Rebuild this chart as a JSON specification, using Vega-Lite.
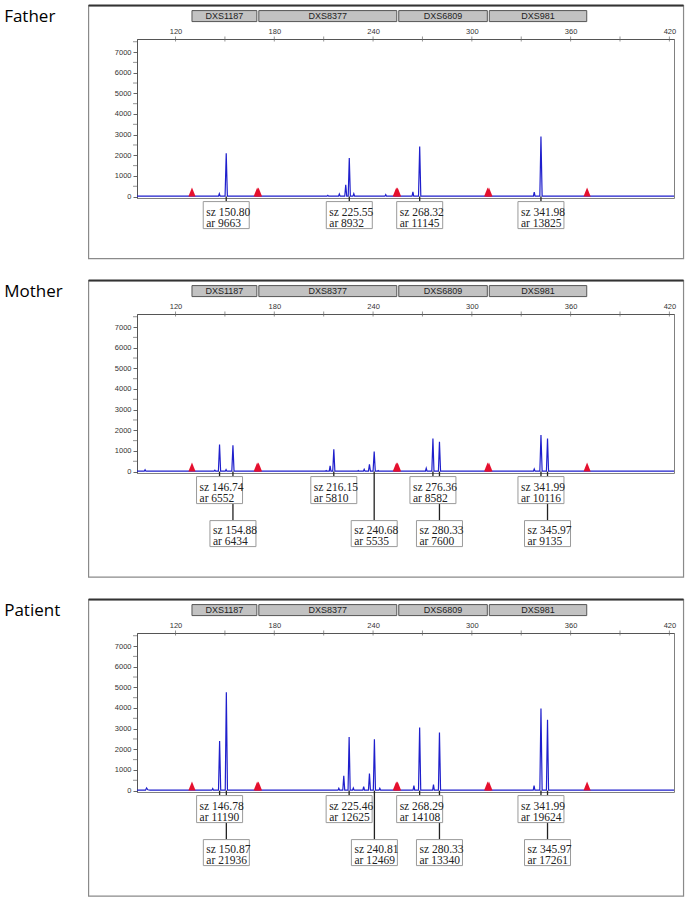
{
"$schema": "https://vega.github.io/schema/vega-lite/v6.json",
"background": "white",
"padding": {"left": 3, "top": 4, "right": 0, "bottom": 0},
"autosize": {"type": "pad"},
"spacing": 19,
"config": {
  "view": {"stroke": "#808080", "strokeWidth": 1},
  "axis": {"grid": false, "domainColor": "#555", "tickColor": "#666", "labelColor": "#333", "labelFont": "Liberation Sans", "labelFontSize": 7.5, "title": null, "labelFlush": false, "labelOverlap": false}
},
"datasets": {
  "one": [{}],
  "minor": [{"v": 500}, {"v": 1500}, {"v": 2500}, {"v": 3500}, {"v": 4500}, {"v": 5500}, {"v": 6500}, {"v": 7500}],
  "xticks": [{"t": 120}, {"t": 150}, {"t": 180}, {"t": 210}, {"t": 240}, {"t": 270}, {"t": 300}, {"t": 330}, {"t": 360}, {"t": 390}, {"t": 420}],
  "loci": [
    {"locus": "DXS1187", "start": 130.0, "end": 169.4},
    {"locus": "DXS8377", "start": 170.6, "end": 254.4},
    {"locus": "DXS6809", "start": 255.6, "end": 309.4},
    {"locus": "DXS981", "start": 310.6, "end": 369.8}
  ],
  "ladder": [
    {"bp": 130.0}, {"bp": 169.6}, {"bp": 170.4}, {"bp": 254.1}, {"bp": 254.9}, {"bp": 309.6}, {"bp": 310.4}, {"bp": 370.0}
  ],
  "calls": [
    {"who": "Father", "row": 1, "peak": 150.80, "label": "sz 150.80\nar 9663"},
    {"who": "Father", "row": 1, "peak": 225.55, "label": "sz 225.55\nar 8932"},
    {"who": "Father", "row": 1, "peak": 268.32, "label": "sz 268.32\nar 11145"},
    {"who": "Father", "row": 1, "peak": 341.98, "label": "sz 341.98\nar 13825"},
    {"who": "Mother", "row": 1, "peak": 146.74, "label": "sz 146.74\nar 6552"},
    {"who": "Mother", "row": 1, "peak": 216.15, "label": "sz 216.15\nar 5810"},
    {"who": "Mother", "row": 1, "peak": 276.36, "label": "sz 276.36\nar 8582"},
    {"who": "Mother", "row": 1, "peak": 341.99, "label": "sz 341.99\nar 10116"},
    {"who": "Mother", "row": 2, "peak": 154.88, "label": "sz 154.88\nar 6434"},
    {"who": "Mother", "row": 2, "peak": 240.68, "label": "sz 240.68\nar 5535"},
    {"who": "Mother", "row": 2, "peak": 280.33, "label": "sz 280.33\nar 7600"},
    {"who": "Mother", "row": 2, "peak": 345.97, "label": "sz 345.97\nar 9135"},
    {"who": "Patient", "row": 1, "peak": 146.78, "label": "sz 146.78\nar 11190"},
    {"who": "Patient", "row": 1, "peak": 225.46, "label": "sz 225.46\nar 12625"},
    {"who": "Patient", "row": 1, "peak": 268.29, "label": "sz 268.29\nar 14108"},
    {"who": "Patient", "row": 1, "peak": 341.99, "label": "sz 341.99\nar 19624"},
    {"who": "Patient", "row": 2, "peak": 150.87, "label": "sz 150.87\nar 21936"},
    {"who": "Patient", "row": 2, "peak": 240.81, "label": "sz 240.81\nar 12469"},
    {"who": "Patient", "row": 2, "peak": 280.33, "label": "sz 280.33\nar 13340"},
    {"who": "Patient", "row": 2, "peak": 345.97, "label": "sz 345.97\nar 17261"}
  ],
  "fatherTrace": [
    {"bp": 96.6, "h": 20}, {"bp": 146.1, "h": 20}, {"bp": 146.6, "h": 140}, {"bp": 147.1, "h": 20},
    {"bp": 150.1, "h": 20}, {"bp": 150.8, "h": 2095}, {"bp": 151.5, "h": 20},
    {"bp": 212.0, "h": 20}, {"bp": 212.5, "h": 60}, {"bp": 213.0, "h": 20},
    {"bp": 219.0, "h": 20}, {"bp": 219.5, "h": 125}, {"bp": 220.0, "h": 20},
    {"bp": 222.8, "h": 20}, {"bp": 223.4, "h": 570}, {"bp": 224.0, "h": 20},
    {"bp": 224.9, "h": 20}, {"bp": 225.55, "h": 1870}, {"bp": 226.2, "h": 20},
    {"bp": 227.8, "h": 20}, {"bp": 228.3, "h": 140}, {"bp": 228.8, "h": 20},
    {"bp": 247.2, "h": 20}, {"bp": 247.7, "h": 95}, {"bp": 248.2, "h": 20},
    {"bp": 263.7, "h": 20}, {"bp": 264.2, "h": 235}, {"bp": 264.7, "h": 20},
    {"bp": 267.6, "h": 20}, {"bp": 268.32, "h": 2430}, {"bp": 269.0, "h": 20},
    {"bp": 337.4, "h": 20}, {"bp": 337.9, "h": 220}, {"bp": 338.4, "h": 20},
    {"bp": 341.3, "h": 20}, {"bp": 341.98, "h": 2905}, {"bp": 342.7, "h": 20},
    {"bp": 422.8, "h": 20}
  ],
  "motherTrace": [
    {"bp": 96.6, "h": 20}, {"bp": 101.0, "h": 20}, {"bp": 101.5, "h": 90}, {"bp": 102.0, "h": 20},
    {"bp": 143.4, "h": 20}, {"bp": 143.9, "h": 65}, {"bp": 144.4, "h": 20},
    {"bp": 146.05, "h": 20}, {"bp": 146.74, "h": 1315}, {"bp": 147.4, "h": 20},
    {"bp": 150.2, "h": 20}, {"bp": 150.7, "h": 95}, {"bp": 151.2, "h": 20},
    {"bp": 154.2, "h": 20}, {"bp": 154.88, "h": 1270}, {"bp": 155.55, "h": 20},
    {"bp": 211.0, "h": 20}, {"bp": 211.5, "h": 55}, {"bp": 212.0, "h": 20},
    {"bp": 213.4, "h": 20}, {"bp": 213.9, "h": 280}, {"bp": 214.4, "h": 20},
    {"bp": 215.5, "h": 20}, {"bp": 216.15, "h": 1080}, {"bp": 216.8, "h": 20},
    {"bp": 230.5, "h": 20}, {"bp": 231.0, "h": 50}, {"bp": 231.5, "h": 20},
    {"bp": 234.1, "h": 20}, {"bp": 234.6, "h": 110}, {"bp": 235.1, "h": 20},
    {"bp": 237.2, "h": 20}, {"bp": 237.8, "h": 350}, {"bp": 238.4, "h": 20},
    {"bp": 240.0, "h": 20}, {"bp": 240.68, "h": 970}, {"bp": 241.35, "h": 20},
    {"bp": 242.6, "h": 20}, {"bp": 243.1, "h": 55}, {"bp": 243.6, "h": 20},
    {"bp": 271.8, "h": 20}, {"bp": 272.3, "h": 160}, {"bp": 272.8, "h": 20},
    {"bp": 275.7, "h": 20}, {"bp": 276.36, "h": 1600}, {"bp": 277.0, "h": 20},
    {"bp": 279.7, "h": 20}, {"bp": 280.33, "h": 1440}, {"bp": 281.0, "h": 20},
    {"bp": 337.4, "h": 20}, {"bp": 337.9, "h": 125}, {"bp": 338.4, "h": 20},
    {"bp": 341.3, "h": 20}, {"bp": 341.99, "h": 1775}, {"bp": 342.7, "h": 20},
    {"bp": 345.3, "h": 20}, {"bp": 345.97, "h": 1600}, {"bp": 346.6, "h": 20},
    {"bp": 422.8, "h": 20}
  ],
  "patientTrace": [
    {"bp": 96.6, "h": 20}, {"bp": 101.8, "h": 20}, {"bp": 102.4, "h": 130}, {"bp": 103.2, "h": 40}, {"bp": 104.5, "h": 20},
    {"bp": 142.1, "h": 20}, {"bp": 142.6, "h": 95}, {"bp": 143.1, "h": 20},
    {"bp": 146.1, "h": 20}, {"bp": 146.78, "h": 2400}, {"bp": 147.45, "h": 20},
    {"bp": 150.2, "h": 20}, {"bp": 150.87, "h": 4760}, {"bp": 151.55, "h": 20},
    {"bp": 218.7, "h": 20}, {"bp": 219.2, "h": 110}, {"bp": 219.7, "h": 20},
    {"bp": 221.6, "h": 20}, {"bp": 222.2, "h": 715}, {"bp": 222.8, "h": 20},
    {"bp": 224.8, "h": 20}, {"bp": 225.46, "h": 2600}, {"bp": 226.1, "h": 20},
    {"bp": 227.5, "h": 20}, {"bp": 228.0, "h": 125}, {"bp": 228.5, "h": 20},
    {"bp": 233.8, "h": 20}, {"bp": 234.3, "h": 190}, {"bp": 234.8, "h": 20},
    {"bp": 237.2, "h": 20}, {"bp": 237.8, "h": 825}, {"bp": 238.4, "h": 20},
    {"bp": 240.15, "h": 20}, {"bp": 240.81, "h": 2480}, {"bp": 241.45, "h": 20},
    {"bp": 243.6, "h": 20}, {"bp": 244.1, "h": 110}, {"bp": 244.6, "h": 20},
    {"bp": 264.3, "h": 20}, {"bp": 264.8, "h": 240}, {"bp": 265.3, "h": 20},
    {"bp": 267.6, "h": 20}, {"bp": 268.29, "h": 3050}, {"bp": 268.95, "h": 20},
    {"bp": 276.2, "h": 20}, {"bp": 276.7, "h": 290}, {"bp": 277.2, "h": 20},
    {"bp": 279.7, "h": 20}, {"bp": 280.33, "h": 2810}, {"bp": 281.0, "h": 20},
    {"bp": 337.3, "h": 20}, {"bp": 337.8, "h": 240}, {"bp": 338.3, "h": 20},
    {"bp": 341.3, "h": 20}, {"bp": 341.99, "h": 3980}, {"bp": 342.7, "h": 20},
    {"bp": 345.3, "h": 20}, {"bp": 345.97, "h": 3430}, {"bp": 346.6, "h": 20},
    {"bp": 422.8, "h": 20}
  ]
},
"vconcat": [
  {
    "width": 537, "height": 159,
    "layer": [
      {"data": {"name": "fatherTrace"},
       "mark": {"type": "line", "color": "#1f1fcc", "strokeWidth": 1.2},
       "encoding": {
         "x": {"field": "bp", "type": "quantitative", "scale": {"domain": [96.6, 422.8], "nice": false, "zero": false},
               "axis": {"orient": "top", "values": [120, 180, 240, 300, 360, 420], "tickCount": 16, "format": "d", "labelExpr": "datum.value % 60 == 0 ? datum.label : ''", "ticks": false, "labelPadding": 4, "labelOverlap": false}},
         "y": {"field": "h", "type": "quantitative", "scale": {"domain": [-68, 7632], "nice": false, "zero": false},
               "axis": {"values": [0, 1000, 2000, 3000, 4000, 5000, 6000, 7000], "tickCount": 8, "format": "d", "tickSize": 4, "labelPadding": 2, "labelOverlap": false}}}},
      {"data": {"name": "one"}, "mark": {"type": "rect", "fill": "transparent", "stroke": "#8a8a8a", "strokeWidth": 1.2},
       "encoding": {"x": {"datum": 67.2, "type": "quantitative"}, "x2": {"datum": 428.6},
                    "y": {"datum": 9250, "type": "quantitative"}, "y2": {"datum": -3003}}},
      {"data": {"name": "one"}, "mark": {"type": "rule", "stroke": "#333", "strokeWidth": 2},
       "encoding": {"x": {"datum": 67.2, "type": "quantitative"}, "x2": {"datum": 428.6}, "y": {"datum": 9250, "type": "quantitative"}}},
      {"data": {"name": "one"}, "mark": {"type": "text", "text": "Father", "align": "left", "baseline": "middle", "font": "Open Sans", "fontSize": 17, "color": "#000"},
       "encoding": {"x": {"datum": 15.9, "type": "quantitative"}, "y": {"datum": 8700, "type": "quantitative"}}},
      {"data": {"name": "minor"}, "mark": {"type": "tick", "orient": "horizontal", "color": "#666", "size": 4, "thickness": 1, "xOffset": -2},
       "encoding": {"x": {"datum": 96.6, "type": "quantitative"}, "y": {"field": "v", "type": "quantitative"}}},
      {"data": {"name": "xticks"}, "mark": {"type": "tick", "orient": "vertical", "color": "#666", "size": 5, "thickness": 1},
       "encoding": {"x": {"field": "t", "type": "quantitative"}, "y": {"datum": 7632, "type": "quantitative"}}},
      {"data": {"name": "loci"},
       "mark": {"type": "rect", "fill": "#c2c2c2", "stroke": "#555", "strokeWidth": 1},
       "encoding": {"x": {"field": "start", "type": "quantitative"}, "x2": {"field": "end"}, "y": {"datum": 9008, "type": "quantitative"}, "y2": {"datum": 8475}}},
      {"data": {"name": "loci"},
       "transform": [{"fold": ["start", "end"], "as": ["edge", "pos"]}, {"aggregate": [{"op": "mean", "field": "pos", "as": "mid"}], "groupby": ["locus"]}],
       "mark": {"type": "text", "font": "Liberation Sans", "fontSize": 9, "color": "#222", "baseline": "middle", "align": "center"},
       "encoding": {"x": {"field": "mid", "type": "quantitative"}, "y": {"datum": 8742, "type": "quantitative"}, "text": {"field": "locus"}}},
      {"data": {"name": "calls"}, "transform": [{"filter": "datum.who == 'Father' && datum.row == 1"}],
       "mark": {"type": "rule", "stroke": "#222", "strokeWidth": 1.3},
       "encoding": {"x": {"field": "peak", "type": "quantitative"}, "y": {"datum": 0, "type": "quantitative"}, "y2": {"datum": -242}}},
      {"data": {"name": "calls"}, "transform": [{"filter": "datum.who == 'Father' && datum.row == 1"}],
       "mark": {"type": "rect", "fill": "white", "stroke": "#9a9a9a", "strokeWidth": 1, "xOffset": -23, "x2Offset": 23},
       "encoding": {"x": {"field": "peak", "type": "quantitative"}, "x2": {"field": "peak"}, "y": {"datum": -242, "type": "quantitative"}, "y2": {"datum": -1550}}},
      {"data": {"name": "calls"}, "transform": [{"filter": "datum.who == 'Father' && datum.row == 1"}],
       "mark": {"type": "text", "align": "left", "baseline": "alphabetic", "font": "Liberation Serif", "fontSize": 11.5, "lineBreak": "\n", "lineHeight": 11, "xOffset": -20, "color": "#222"},
       "encoding": {"x": {"field": "peak", "type": "quantitative"}, "y": {"datum": -930, "type": "quantitative"}, "text": {"field": "label"}}},
      {"data": {"name": "ladder"},
       "mark": {"type": "point", "shape": "M-0.8,1L0,-1L0.8,1Z", "filled": true, "color": "#e5102e", "opacity": 1, "size": 81},
       "encoding": {"x": {"field": "bp", "type": "quantitative"}, "y": {"datum": 218, "type": "quantitative"}}}
    ]
  },
  {
    "width": 537, "height": 159,
    "layer": [
      {"data": {"name": "motherTrace"},
       "mark": {"type": "line", "color": "#1f1fcc", "strokeWidth": 1.2},
       "encoding": {
         "x": {"field": "bp", "type": "quantitative", "scale": {"domain": [96.6, 422.8], "nice": false, "zero": false},
               "axis": {"orient": "top", "values": [120, 180, 240, 300, 360, 420], "tickCount": 16, "format": "d", "labelExpr": "datum.value % 60 == 0 ? datum.label : ''", "ticks": false, "labelPadding": 4, "labelOverlap": false}},
         "y": {"field": "h", "type": "quantitative", "scale": {"domain": [-68, 7632], "nice": false, "zero": false},
               "axis": {"values": [0, 1000, 2000, 3000, 4000, 5000, 6000, 7000], "tickCount": 8, "format": "d", "tickSize": 4, "labelPadding": 2, "labelOverlap": false}}}},
      {"data": {"name": "one"}, "mark": {"type": "rect", "fill": "transparent", "stroke": "#8a8a8a", "strokeWidth": 1.2},
       "encoding": {"x": {"datum": 67.2, "type": "quantitative"}, "x2": {"datum": 428.6},
                    "y": {"datum": 9250, "type": "quantitative"}, "y2": {"datum": -5109}}},
      {"data": {"name": "one"}, "mark": {"type": "rule", "stroke": "#333", "strokeWidth": 2},
       "encoding": {"x": {"datum": 67.2, "type": "quantitative"}, "x2": {"datum": 428.6}, "y": {"datum": 9250, "type": "quantitative"}}},
      {"data": {"name": "one"}, "mark": {"type": "text", "text": "Mother", "align": "left", "baseline": "middle", "font": "Open Sans", "fontSize": 17, "color": "#000"},
       "encoding": {"x": {"datum": 15.9, "type": "quantitative"}, "y": {"datum": 8700, "type": "quantitative"}}},
      {"data": {"name": "minor"}, "mark": {"type": "tick", "orient": "horizontal", "color": "#666", "size": 4, "thickness": 1, "xOffset": -2},
       "encoding": {"x": {"datum": 96.6, "type": "quantitative"}, "y": {"field": "v", "type": "quantitative"}}},
      {"data": {"name": "xticks"}, "mark": {"type": "tick", "orient": "vertical", "color": "#666", "size": 5, "thickness": 1},
       "encoding": {"x": {"field": "t", "type": "quantitative"}, "y": {"datum": 7632, "type": "quantitative"}}},
      {"data": {"name": "loci"},
       "mark": {"type": "rect", "fill": "#c2c2c2", "stroke": "#555", "strokeWidth": 1},
       "encoding": {"x": {"field": "start", "type": "quantitative"}, "x2": {"field": "end"}, "y": {"datum": 9008, "type": "quantitative"}, "y2": {"datum": 8475}}},
      {"data": {"name": "loci"},
       "transform": [{"fold": ["start", "end"], "as": ["edge", "pos"]}, {"aggregate": [{"op": "mean", "field": "pos", "as": "mid"}], "groupby": ["locus"]}],
       "mark": {"type": "text", "font": "Liberation Sans", "fontSize": 9, "color": "#222", "baseline": "middle", "align": "center"},
       "encoding": {"x": {"field": "mid", "type": "quantitative"}, "y": {"datum": 8742, "type": "quantitative"}, "text": {"field": "locus"}}},
      {"data": {"name": "calls"}, "transform": [{"filter": "datum.who == 'Mother' && datum.row == 2"}],
       "mark": {"type": "rule", "stroke": "#222", "strokeWidth": 1.3},
       "encoding": {"x": {"field": "peak", "type": "quantitative"}, "y": {"datum": 0, "type": "quantitative"}, "y2": {"datum": -2373}}},
      {"data": {"name": "calls"}, "transform": [{"filter": "datum.who == 'Mother' && datum.row == 1"}],
       "mark": {"type": "rule", "stroke": "#222", "strokeWidth": 1.3},
       "encoding": {"x": {"field": "peak", "type": "quantitative"}, "y": {"datum": 0, "type": "quantitative"}, "y2": {"datum": -242}}},
      {"data": {"name": "calls"}, "transform": [{"filter": "datum.who == 'Mother' && datum.row == 1"}],
       "mark": {"type": "rect", "fill": "white", "stroke": "#9a9a9a", "strokeWidth": 1, "xOffset": -23, "x2Offset": 23},
       "encoding": {"x": {"field": "peak", "type": "quantitative"}, "x2": {"field": "peak"}, "y": {"datum": -242, "type": "quantitative"}, "y2": {"datum": -1550}}},
      {"data": {"name": "calls"}, "transform": [{"filter": "datum.who == 'Mother' && datum.row == 2"}],
       "mark": {"type": "rect", "fill": "white", "stroke": "#9a9a9a", "strokeWidth": 1, "xOffset": -23, "x2Offset": 23},
       "encoding": {"x": {"field": "peak", "type": "quantitative"}, "x2": {"field": "peak"}, "y": {"datum": -2373, "type": "quantitative"}, "y2": {"datum": -3632}}},
      {"data": {"name": "calls"}, "transform": [{"filter": "datum.who == 'Mother' && datum.row == 1"}],
       "mark": {"type": "text", "align": "left", "baseline": "alphabetic", "font": "Liberation Serif", "fontSize": 11.5, "lineBreak": "\n", "lineHeight": 11, "xOffset": -20, "color": "#222"},
       "encoding": {"x": {"field": "peak", "type": "quantitative"}, "y": {"datum": -930, "type": "quantitative"}, "text": {"field": "label"}}},
      {"data": {"name": "calls"}, "transform": [{"filter": "datum.who == 'Mother' && datum.row == 2"}],
       "mark": {"type": "text", "align": "left", "baseline": "alphabetic", "font": "Liberation Serif", "fontSize": 11.5, "lineBreak": "\n", "lineHeight": 11, "xOffset": -20, "color": "#222"},
       "encoding": {"x": {"field": "peak", "type": "quantitative"}, "y": {"datum": -3003, "type": "quantitative"}, "text": {"field": "label"}}},
      {"data": {"name": "ladder"},
       "mark": {"type": "point", "shape": "M-0.8,1L0,-1L0.8,1Z", "filled": true, "color": "#e5102e", "opacity": 1, "size": 81},
       "encoding": {"x": {"field": "bp", "type": "quantitative"}, "y": {"datum": 218, "type": "quantitative"}}}
    ]
  },
  {
    "width": 537, "height": 159,
    "layer": [
      {"data": {"name": "patientTrace"},
       "mark": {"type": "line", "color": "#1f1fcc", "strokeWidth": 1.2},
       "encoding": {
         "x": {"field": "bp", "type": "quantitative", "scale": {"domain": [96.6, 422.8], "nice": false, "zero": false},
               "axis": {"orient": "top", "values": [120, 180, 240, 300, 360, 420], "tickCount": 16, "format": "d", "labelExpr": "datum.value % 60 == 0 ? datum.label : ''", "ticks": false, "labelPadding": 4, "labelOverlap": false}},
         "y": {"field": "h", "type": "quantitative", "scale": {"domain": [-68, 7632], "nice": false, "zero": false},
               "axis": {"values": [0, 1000, 2000, 3000, 4000, 5000, 6000, 7000], "tickCount": 8, "format": "d", "tickSize": 4, "labelPadding": 2, "labelOverlap": false}}}},
      {"data": {"name": "one"}, "mark": {"type": "rect", "fill": "transparent", "stroke": "#8a8a8a", "strokeWidth": 1.2},
       "encoding": {"x": {"datum": 67.2, "type": "quantitative"}, "x2": {"datum": 428.6},
                    "y": {"datum": 9250, "type": "quantitative"}, "y2": {"datum": -5109}}},
      {"data": {"name": "one"}, "mark": {"type": "rule", "stroke": "#333", "strokeWidth": 2},
       "encoding": {"x": {"datum": 67.2, "type": "quantitative"}, "x2": {"datum": 428.6}, "y": {"datum": 9250, "type": "quantitative"}}},
      {"data": {"name": "one"}, "mark": {"type": "text", "text": "Patient", "align": "left", "baseline": "middle", "font": "Open Sans", "fontSize": 17, "color": "#000"},
       "encoding": {"x": {"datum": 15.9, "type": "quantitative"}, "y": {"datum": 8700, "type": "quantitative"}}},
      {"data": {"name": "minor"}, "mark": {"type": "tick", "orient": "horizontal", "color": "#666", "size": 4, "thickness": 1, "xOffset": -2},
       "encoding": {"x": {"datum": 96.6, "type": "quantitative"}, "y": {"field": "v", "type": "quantitative"}}},
      {"data": {"name": "xticks"}, "mark": {"type": "tick", "orient": "vertical", "color": "#666", "size": 5, "thickness": 1},
       "encoding": {"x": {"field": "t", "type": "quantitative"}, "y": {"datum": 7632, "type": "quantitative"}}},
      {"data": {"name": "loci"},
       "mark": {"type": "rect", "fill": "#c2c2c2", "stroke": "#555", "strokeWidth": 1},
       "encoding": {"x": {"field": "start", "type": "quantitative"}, "x2": {"field": "end"}, "y": {"datum": 9008, "type": "quantitative"}, "y2": {"datum": 8475}}},
      {"data": {"name": "loci"},
       "transform": [{"fold": ["start", "end"], "as": ["edge", "pos"]}, {"aggregate": [{"op": "mean", "field": "pos", "as": "mid"}], "groupby": ["locus"]}],
       "mark": {"type": "text", "font": "Liberation Sans", "fontSize": 9, "color": "#222", "baseline": "middle", "align": "center"},
       "encoding": {"x": {"field": "mid", "type": "quantitative"}, "y": {"datum": 8742, "type": "quantitative"}, "text": {"field": "locus"}}},
      {"data": {"name": "calls"}, "transform": [{"filter": "datum.who == 'Patient' && datum.row == 2"}],
       "mark": {"type": "rule", "stroke": "#222", "strokeWidth": 1.3},
       "encoding": {"x": {"field": "peak", "type": "quantitative"}, "y": {"datum": 0, "type": "quantitative"}, "y2": {"datum": -2373}}},
      {"data": {"name": "calls"}, "transform": [{"filter": "datum.who == 'Patient' && datum.row == 1"}],
       "mark": {"type": "rule", "stroke": "#222", "strokeWidth": 1.3},
       "encoding": {"x": {"field": "peak", "type": "quantitative"}, "y": {"datum": 0, "type": "quantitative"}, "y2": {"datum": -242}}},
      {"data": {"name": "calls"}, "transform": [{"filter": "datum.who == 'Patient' && datum.row == 1"}],
       "mark": {"type": "rect", "fill": "white", "stroke": "#9a9a9a", "strokeWidth": 1, "xOffset": -23, "x2Offset": 23},
       "encoding": {"x": {"field": "peak", "type": "quantitative"}, "x2": {"field": "peak"}, "y": {"datum": -242, "type": "quantitative"}, "y2": {"datum": -1550}}},
      {"data": {"name": "calls"}, "transform": [{"filter": "datum.who == 'Patient' && datum.row == 2"}],
       "mark": {"type": "rect", "fill": "white", "stroke": "#9a9a9a", "strokeWidth": 1, "xOffset": -23, "x2Offset": 23},
       "encoding": {"x": {"field": "peak", "type": "quantitative"}, "x2": {"field": "peak"}, "y": {"datum": -2373, "type": "quantitative"}, "y2": {"datum": -3632}}},
      {"data": {"name": "calls"}, "transform": [{"filter": "datum.who == 'Patient' && datum.row == 1"}],
       "mark": {"type": "text", "align": "left", "baseline": "alphabetic", "font": "Liberation Serif", "fontSize": 11.5, "lineBreak": "\n", "lineHeight": 11, "xOffset": -20, "color": "#222"},
       "encoding": {"x": {"field": "peak", "type": "quantitative"}, "y": {"datum": -930, "type": "quantitative"}, "text": {"field": "label"}}},
      {"data": {"name": "calls"}, "transform": [{"filter": "datum.who == 'Patient' && datum.row == 2"}],
       "mark": {"type": "text", "align": "left", "baseline": "alphabetic", "font": "Liberation Serif", "fontSize": 11.5, "lineBreak": "\n", "lineHeight": 11, "xOffset": -20, "color": "#222"},
       "encoding": {"x": {"field": "peak", "type": "quantitative"}, "y": {"datum": -3003, "type": "quantitative"}, "text": {"field": "label"}}},
      {"data": {"name": "ladder"},
       "mark": {"type": "point", "shape": "M-0.8,1L0,-1L0.8,1Z", "filled": true, "color": "#e5102e", "opacity": 1, "size": 81},
       "encoding": {"x": {"field": "bp", "type": "quantitative"}, "y": {"datum": 218, "type": "quantitative"}}}
    ]
  }
]
}
